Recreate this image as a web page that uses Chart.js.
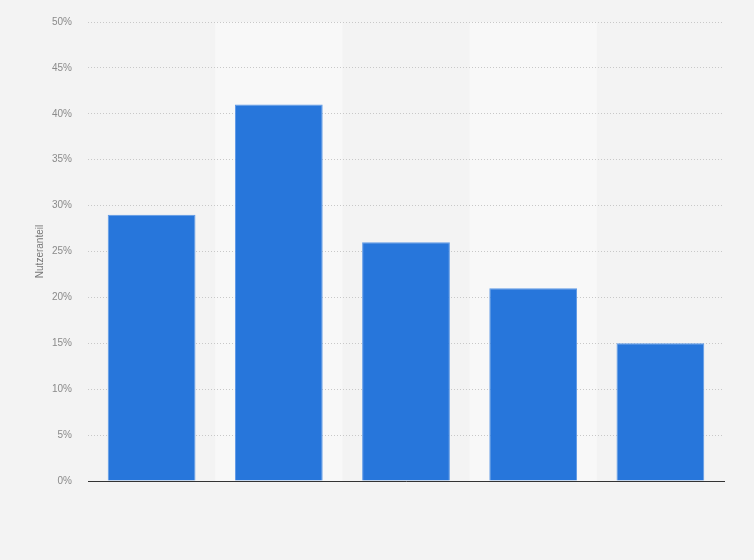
<!DOCTYPE html>
<html>
<head>
<meta charset="utf-8">
<script src="https://cdn.jsdelivr.net/npm/chart.js@4"></script>
<style>
    html, body { margin: 0; padding: 0; background: #f3f3f3; }
    #wrap { width: 754px; height: 560px; position: relative; }
</style>
</head>
<body>
<div id="wrap"><canvas id="chart"></canvas></div>
<script>
// ==================== DONNÉES ====================
const categories = ['Gruppe 1', 'Gruppe 2', 'Gruppe 3', 'Gruppe 4', 'Gruppe 5'];
const shares = [29, 41, 26, 21, 15];
const yTicks = [0, 5, 10, 15, 20, 25, 30, 35, 40, 45, 50];

// Bandes claires derrière les colonnes paires
const bandsPlugin = {
    id: 'bands',
    beforeDraw(chart) {
        const { ctx, chartArea, scales } = chart;
        const x = scales.x;
        const step = x.width / categories.length;
        ctx.save();
        ctx.fillStyle = '#f8f8f8';
        categories.forEach((c, i) => {
            if (i % 2 === 1) {
                const cx = x.getPixelForValue(i);
                ctx.fillRect(cx - step / 2, chartArea.top, step, chartArea.bottom - chartArea.top);
            }
        });
        ctx.restore();
    }
};

new Chart(document.getElementById('chart'), {
    type: 'bar',
    data: {
        labels: categories,
        datasets: [{
            label: 'Nutzeranteil',
            data: shares,
            backgroundColor: '#2776db',
            borderColor: '#5c98e6',
            borderWidth: 1,
            categoryPercentage: 1,
            barPercentage: 0.69
        }]
    },
    options: {
        responsive: true,
        maintainAspectRatio: false,
        animation: false,
        layout: { padding: { top: 20, right: 30, bottom: 71, left: 0 } },
        plugins: {
            legend: { display: false },
            tooltip: { enabled: false }
        },
        scales: {
            x: {
                grid: { display: false },
                ticks: { display: false },
                border: { display: true, color: '#333333', width: 1 }
            },
            y: {
                min: 0,
                max: 50,
                afterBuildTicks(scale) {
                    scale.ticks = yTicks.map(v => ({ value: v }));
                },
                afterFit(scale) {
                    scale.width = 88;
                },
                border: { display: false, dash: [1, 2] },
                grid: {
                    color: '#c8c8c8',
                    drawTicks: false
                },
                ticks: {
                    padding: 16,
                    color: '#8a8a8a',
                    font: { family: 'Arial, "Liberation Sans", sans-serif', size: 10 },
                    callback: function(value) {
                        return value + '%';
                    }
                },
                title: {
                    display: true,
                    text: 'Nutzeranteil',
                    color: '#777777',
                    font: { family: 'Arial, "Liberation Sans", sans-serif', size: 10 },
                    padding: { top: 34, bottom: 0 }
                }
            }
        }
    },
    plugins: [bandsPlugin]
});
</script>
</body>
</html>
